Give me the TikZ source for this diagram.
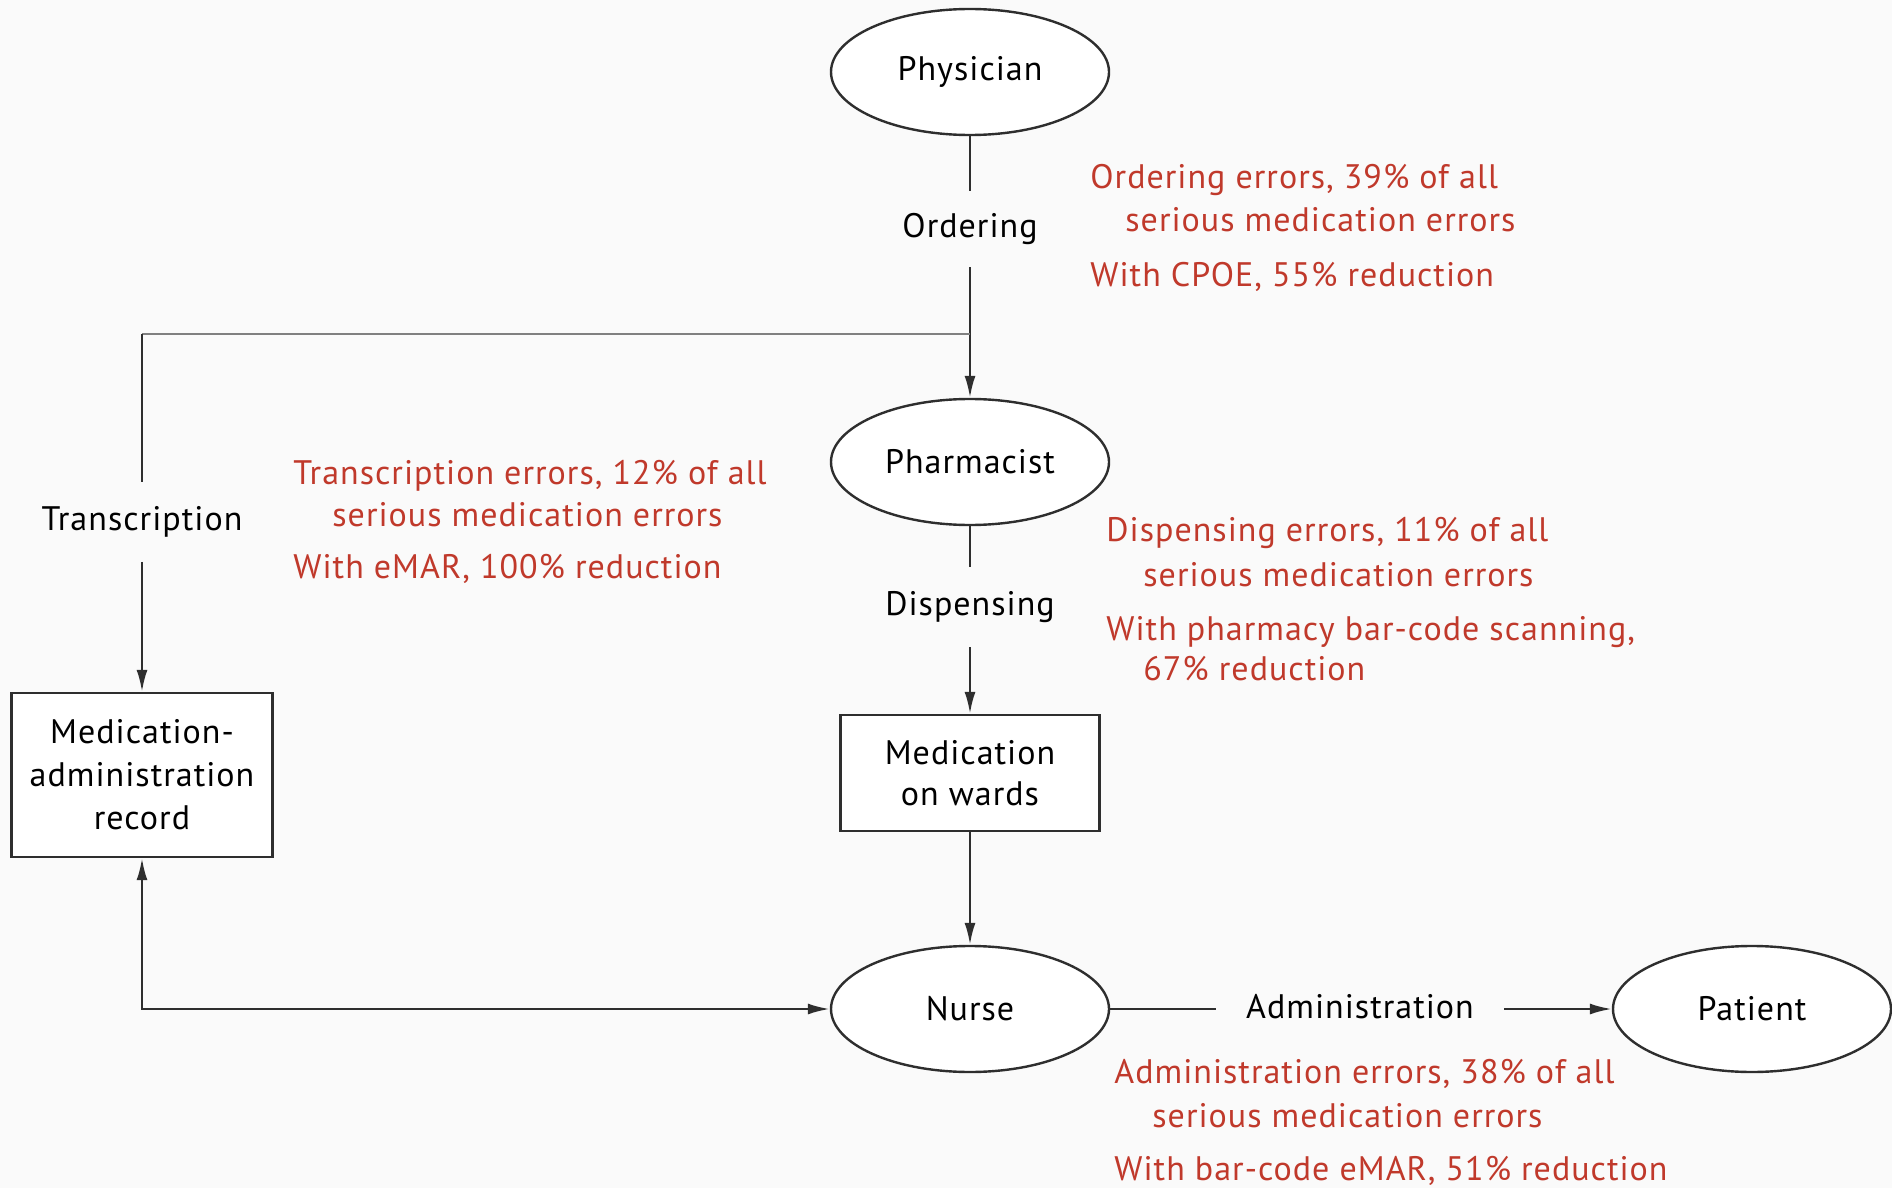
\documentclass[tikz,border=0pt]{standalone}
\usepackage{fontspec}
\setmainfont{PT Sans}[LetterSpace=3]
\usetikzlibrary{shapes.geometric,arrows.meta}
\definecolor{bgc}{HTML}{FAFAFA}
\definecolor{errred}{HTML}{C0392B}
\definecolor{ln}{HTML}{2E2E2E}
\definecolor{lngray}{HTML}{808080}
\begin{document}
\begin{tikzpicture}[x=0.5pt,y=-0.5pt,
  font=\fontsize{17}{21}\selectfont,
  actor/.style={ellipse, draw=ln, line width=1.2pt, fill=white, minimum width=139pt, minimum height=63pt, inner sep=0pt},
  boxn/.style={rectangle, draw=ln, line width=1.2pt, fill=white, align=center, inner sep=0pt},
  steplabel/.style={inner xsep=15pt, inner ysep=12pt},
  errtxt/.style={text=errred, anchor=base west, inner sep=0pt},
  conn/.style={draw=ln, line width=1.2pt},
  arr/.style={conn, -{Latex[length=11pt,width=5.5pt]}},
  darr/.style={conn, {Latex[length=11pt,width=5.5pt]}-{Latex[length=11pt,width=5.5pt]}}
]
\fill[bgc] (0,0) rectangle (1892,1188);
\useasboundingbox (0,0) rectangle (1892,1188);

% main nodes
\node[actor] (phys) at (970,72) {Physician};
\node[actor] (pharm) at (970,462) {Pharmacist};
\node[boxn, minimum width=129.5pt, minimum height=58pt, font=\fontsize{17}{20.5}\selectfont] (ward) at (970,773) {Medication\\on wards};
\node[actor] (nurse) at (970,1009) {Nurse};
\node[actor] (pat) at (1752,1009) {Patient};
\node[boxn, minimum width=130.5pt, minimum height=82pt, font=\fontsize{17}{21.5}\selectfont] (mar) at (142,775) {Medication-\\administration\\record};

% step labels
\node[steplabel, inner ysep=11pt] (ord) at (970,229) {Ordering};
\node[steplabel] (disp) at (970,607) {Dispensing};
\node[steplabel] (trans) at (142,522) {Transcription};
\node[steplabel] (adm) at (1360,1007) {Administration};

% connectors
\coordinate (junc) at (970,334);
\coordinate (corner) at (142,334);
\draw[conn] (phys.south) -- (ord.north);
\draw[arr] (ord.south) -- (pharm.north);
\draw[draw=lngray, line width=1.2pt] (junc) -- (corner);
\draw[conn] (corner) -- (trans.north);
\draw[arr] (trans.south) -- (mar.north);
\draw[conn] (pharm.south) -- (disp.north);
\draw[arr] (disp.south) -- (ward.north);
\draw[arr] (ward.south) -- (nurse.north);
\draw[darr] (mar.south) |- (nurse.west);
\draw[conn] (nurse.east) -- (adm.west |- nurse.east);
\draw[arr] (adm.east |- pat.west) -- (pat.west);

% error texts
\node[errtxt] (o1) at (1090,189) {Ordering errors, 39\% of all};
\node[errtxt] (o2) at (1125,232) {serious medication errors};
\node[errtxt] (o3) at (1090,286) {With CPOE, 55\% reduction};

\node[errtxt] (t1) at (293,484) {Transcription errors, 12\% of all};
\node[errtxt] (t2) at (332,526) {serious medication errors};
\node[errtxt] (t3) at (293,578) {With eMAR, 100\% reduction};

\node[errtxt] (d1) at (1106,541) {Dispensing errors, 11\% of all};
\node[errtxt] (d2) at (1143,586) {serious medication errors};
\node[errtxt] (d3) at (1106,640) {With pharmacy bar-code scanning,};
\node[errtxt] (d4) at (1143,680) {67\% reduction};

\node[errtxt] (a1) at (1114,1083) {Administration errors, 38\% of all};
\node[errtxt] (a2) at (1152,1127) {serious medication errors};
\node[errtxt] (a3) at (1114,1180) {With bar-code eMAR, 51\% reduction};
\end{tikzpicture}
\end{document}
